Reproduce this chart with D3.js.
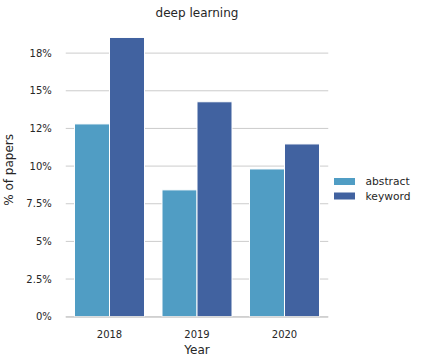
<!DOCTYPE html>
<html><head><meta charset="utf-8">
<script src="https://cdn.jsdelivr.net/npm/d3@7"></script>
<style>body{margin:0;background:#fff}svg{display:block;font-family:"DejaVu Sans",sans-serif}</style>
</head><body>
<svg id="c" width="421" height="364"></svg>
<script>
const years = ["2018", "2019", "2020"];
const seriesNames = ["abstract", "keyword"];
const abstractVals = [0.128, 0.0842, 0.0981];
const keywordVals = [0.1854, 0.1427, 0.1147];
const yTicks = [0, 0.025, 0.05, 0.075, 0.1, 0.125, 0.15, 0.175];
const yTickLabels = ["0%", "2.5%", "5%", "7.5%", "10%", "12%", "15%", "18%"];
const colors = ["#509dc4", "#4162a0"];

const svg = d3.select("#c");
const L = 65.75, R = 328.25, T = 23, B = 316.7;
const x = d3.scaleBand().domain(years).range([L, R]).paddingInner(0).paddingOuter(0);
const xs = d3.scaleBand().domain(seriesNames).range([0, x.bandwidth()]).paddingInner(0).paddingOuter(0.25);
const y = d3.scaleLinear().domain([0, 0.195]).range([B, T]);
const txt = "#262626";

// gridlines
svg.append("g").selectAll("line").data(yTicks).join("line")
  .attr("x1", L).attr("x2", R).attr("y1", d => y(d)).attr("y2", d => y(d))
  .attr("stroke", "#cccccc").attr("stroke-width", 1);

// y tick labels
svg.append("g").selectAll("text").data(yTicks).join("text")
  .attr("x", L - 14).attr("y", d => y(d)).attr("dy", "0.35em")
  .attr("text-anchor", "end").attr("font-size", 10).attr("fill", txt)
  .text((d, i) => yTickLabels[i]);

// bars
const data = years.map((yr, i) => ({yr, vals: [abstractVals[i], keywordVals[i]]}));
const g = svg.append("g").selectAll("g").data(data).join("g")
  .attr("transform", d => `translate(${x(d.yr)},0)`);
g.selectAll("rect").data(d => d.vals.map((v, j) => ({v, s: seriesNames[j], j}))).join("rect")
  .attr("x", d => xs(d.s)).attr("width", xs.bandwidth())
  .attr("y", d => y(d.v)).attr("height", d => y(0) - y(d.v))
  .attr("fill", d => colors[d.j]).attr("stroke", "#fff").attr("stroke-width", 1);

// bottom spine
svg.append("line").attr("x1", L).attr("x2", R).attr("y1", B + 0.5).attr("y2", B + 0.5)
  .attr("stroke", "#cccccc").attr("stroke-width", 1.3);

// x tick labels
svg.append("g").selectAll("text").data(years).join("text")
  .attr("x", d => x(d) + x.bandwidth() / 2).attr("y", 338)
  .attr("text-anchor", "middle").attr("font-size", 10).attr("fill", txt).text(d => d);

// axis labels
svg.append("text").attr("x", (L + R) / 2).attr("y", 354).attr("text-anchor", "middle")
  .attr("font-size", 12).attr("fill", txt).text("Year");
svg.append("text").attr("transform", `translate(13,${(T + B) / 2}) rotate(-90)`)
  .attr("text-anchor", "middle").attr("font-size", 12).attr("fill", txt).text("% of papers");

// title
svg.append("text").attr("x", (L + R) / 2).attr("y", 17).attr("text-anchor", "middle")
  .attr("font-size", 12).attr("fill", txt).text("deep learning");

// legend
const lg = svg.append("g").selectAll("g").data(seriesNames).join("g")
  .attr("transform", (d, i) => `translate(334,${181.5 + i * 14.5})`);
lg.append("rect").attr("x", 0).attr("y", -3.5).attr("width", 21).attr("height", 7)
  .attr("fill", (d, i) => colors[i]);
lg.append("text").attr("x", 31.5).attr("y", 0).attr("dy", "0.35em")
  .attr("font-size", 10.7).attr("fill", txt).text(d => d);
</script>
</body></html>
